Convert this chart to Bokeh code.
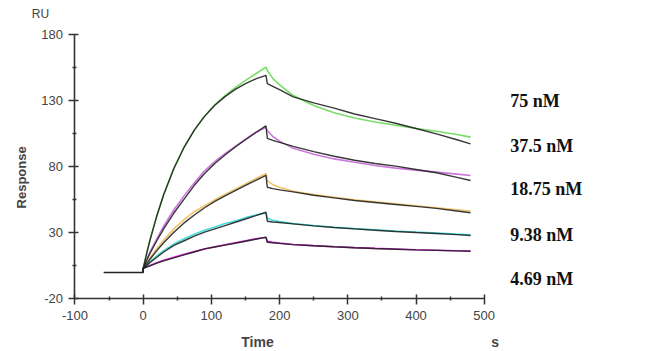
import math
from bokeh.plotting import figure
from bokeh.models import Range1d, FixedTicker, Label, LinearAxis
from bokeh.embed import file_html
from bokeh.resources import INLINE

# ---- data ----
t_base = [-58, 0]
base_vals = [0, 0]

t_assoc = [0, 5, 10, 20, 30, 45, 60, 75, 90, 105, 120, 135, 150, 165, 180]
t_dis = [180, 182, 190, 200, 220, 250, 280, 310, 340, 370, 400, 430, 460, 480]

concentrations = ["75 nM", "37.5 nM", "18.75 nM", "9.38 nM", "4.69 nM"]
label_y = [130.2, 96.1, 63.3, 28.7, -4.8]

# measured responses (coloured)
meas_75_assoc = [3, 14.5, 25, 43, 59, 79, 95, 108, 118.5, 127, 134, 140, 145.5, 150.5, 155.5]
meas_75_dis = [155.5, 153, 147, 142, 134, 126.5, 121, 117, 114, 111.5, 109, 107, 104.5, 102.5]
meas_37_assoc = [3, 9.5, 15.5, 25.5, 35, 47.5, 58, 68, 77, 84, 90, 95.5, 101, 106, 110]
meas_37_dis = [110, 107.5, 103, 99.5, 94, 89.5, 86, 83.5, 81, 79, 77.5, 76, 74.5, 73.4]
meas_18_assoc = [3, 7, 11, 18, 24.5, 33, 40, 46, 50.5, 55, 59, 63, 67, 71, 75]
meas_18_dis = [75, 69.6, 66.5, 64.5, 61.5, 59, 57, 55, 53.5, 52, 50.5, 49, 47.5, 46.5]
meas_9_assoc = [3, 5.5, 8, 12.5, 16.5, 21.5, 25.5, 29, 32, 34.5, 37, 39, 41.5, 43.5, 45]
meas_9_dis = [45, 41, 39.5, 38.5, 37, 35.5, 34.2, 33.2, 32.3, 31.4, 30.6, 29.8, 29, 28.5]
meas_4_assoc = [3, 4.2, 5.3, 7.3, 9.2, 11.5, 13.7, 15.8, 17.8, 19.5, 21, 22.5, 24, 25.5, 26.5]
meas_4_dis = [26.5, 23.5, 22.8, 22.2, 21.2, 20.3, 19.5, 18.8, 18.2, 17.7, 17.2, 16.8, 16.4, 16.2]

# fitted curves (black)
fit_75_assoc = [3, 14, 24.4, 42.8, 58.8, 78.7, 94.8, 107.8, 118.2, 126.6, 133.2, 138.7, 143, 146.6, 149.3]
fit_75_dis = [149.3, 143, 141, 138.5, 133, 128.5, 124.5, 120, 116.5, 113, 109, 105, 100.5, 97.4]
fit_37_assoc = [3, 9, 14.5, 24, 33, 45, 55.5, 66, 75, 82.5, 89, 95, 100.5, 106, 111]
fit_37_dis = [111, 101.5, 100, 98.5, 95.5, 91.5, 88, 85, 82.5, 80.5, 78, 75.5, 72, 69.6]
fit_18_assoc = [3, 6.5, 10, 16.5, 22.5, 30.5, 37.5, 43.5, 49, 53.8, 58, 62, 66, 69.8, 73.5]
fit_18_dis = [73.5, 64.5, 63.5, 62.5, 61, 58.5, 56.5, 54.5, 53, 51.5, 50, 48.5, 46.5, 45.2]
fit_9_assoc = [3, 5, 7.5, 11.5, 15.5, 20.5, 24, 27.5, 30.5, 33, 35.5, 38, 40.5, 43, 45.6]
fit_9_dis = [45.6, 38.8, 38.2, 37.8, 36.8, 35.3, 34, 33, 32, 31, 30.2, 29.5, 28.6, 28]
fit_4_assoc = [3, 4, 5, 7, 8.8, 11, 13.3, 15.5, 17.8, 19.3, 20.7, 22.1, 23.6, 25.1, 26.7]
fit_4_dis = [26.7, 22.9, 22.5, 22, 21.1, 20.2, 19.4, 18.7, 18.1, 17.6, 17.1, 16.7, 16.3, 16]

meas_colors = ["#77dd66", "#cc77dd", "#f0c46a", "#44dddd", "#dd22dd"]
fit_color = "#222222"

x_ticks = [-100, 0, 100, 200, 300, 400, 500]
x_minor = [-50, 50, 150, 250, 350, 450]
y_ticks = [-20, 30, 80, 130, 180]
y_minor = [5, 55, 105, 155]
x_bounds = (-100, 500)
y_bounds = (-20, 180)

# ---- figure: frame spans the whole canvas, axes placed at fixed data locations ----
p = figure(width=650, height=351, x_range=Range1d(-209.2, 743.8), y_range=Range1d(-59.9, 206.0),
           output_backend="svg", toolbar_location=None,
           x_axis_location=None, y_axis_location=None,
           min_border_left=0, min_border_right=0, min_border_top=0, min_border_bottom=0)
p.outline_line_color = None
p.xgrid.visible = False
p.ygrid.visible = False
p.background_fill_color = "white"
p.border_fill_color = "white"

xaxis = LinearAxis(fixed_location=y_bounds[0], bounds=x_bounds,
                   ticker=FixedTicker(ticks=x_ticks, minor_ticks=x_minor),
                   major_label_overrides={t: str(t) for t in x_ticks})
yaxis = LinearAxis(fixed_location=x_bounds[0], bounds=y_bounds,
                   ticker=FixedTicker(ticks=y_ticks, minor_ticks=y_minor),
                   major_label_overrides={t: str(t) for t in y_ticks})
for ax in (xaxis, yaxis):
    ax.axis_line_color = "#333333"
    ax.axis_line_width = 1.6
    ax.major_tick_line_color = "#333333"
    ax.major_tick_line_width = 1.5
    ax.minor_tick_line_color = "#333333"
    ax.minor_tick_line_width = 1.5
    ax.major_tick_in = 4
    ax.major_tick_out = 6
    ax.minor_tick_in = 2
    ax.minor_tick_out = 2
    ax.major_label_text_font = "Liberation Sans"
    ax.major_label_text_font_size = "13px"
    ax.major_label_text_color = "#444444"
    ax.major_label_standoff = 6
p.add_layout(xaxis, "below")
p.add_layout(yaxis, "left")

def join(a, b):
    return a + b[1:]

t_all = join(t_assoc, t_dis)
meas = [join(meas_75_assoc, meas_75_dis), join(meas_37_assoc, meas_37_dis),
        join(meas_18_assoc, meas_18_dis), join(meas_9_assoc, meas_9_dis),
        join(meas_4_assoc, meas_4_dis)]
fits = [join(fit_75_assoc, fit_75_dis), join(fit_37_assoc, fit_37_dis),
        join(fit_18_assoc, fit_18_dis), join(fit_9_assoc, fit_9_dis),
        join(fit_4_assoc, fit_4_dis)]

for m, c in zip(meas, meas_colors):
    p.line(t_all, m, line_color=c, line_width=1.6)
p.line(t_base, base_vals, line_color=fit_color, line_width=1.5)
for f in fits:
    p.line([0] + t_all, [0] + f, line_color=fit_color, line_width=1.4, line_alpha=0.9)

for name, ly in zip(concentrations, label_y):
    p.add_layout(Label(x=538, y=ly, text=name, text_font="Liberation Serif",
                       text_font_style="bold", text_font_size="18px", text_color="#111111",
                       text_baseline="middle", text_align="left"))

p.add_layout(Label(x=167.6, y=-53, text="Time", text_font="Liberation Sans", text_font_style="bold",
                   text_font_size="14px", text_color="#444444", text_align="center", text_baseline="middle"))
p.add_layout(Label(x=516, y=-53, text="s", text_font="Liberation Sans", text_font_style="bold",
                   text_font_size="14px", text_color="#444444", text_align="center", text_baseline="middle"))
p.add_layout(Label(x=-150.6, y=196, text="RU", text_font="Liberation Sans",
                   text_font_size="12px", text_color="#444444", text_align="center", text_baseline="middle"))
p.add_layout(Label(x=-179, y=72, text="Response", angle=math.pi / 2, text_font="Liberation Sans",
                   text_font_style="bold", text_font_size="13px", text_color="#444444",
                   text_align="center", text_baseline="middle"))

open("out.html", "w").write(file_html(p, INLINE))
